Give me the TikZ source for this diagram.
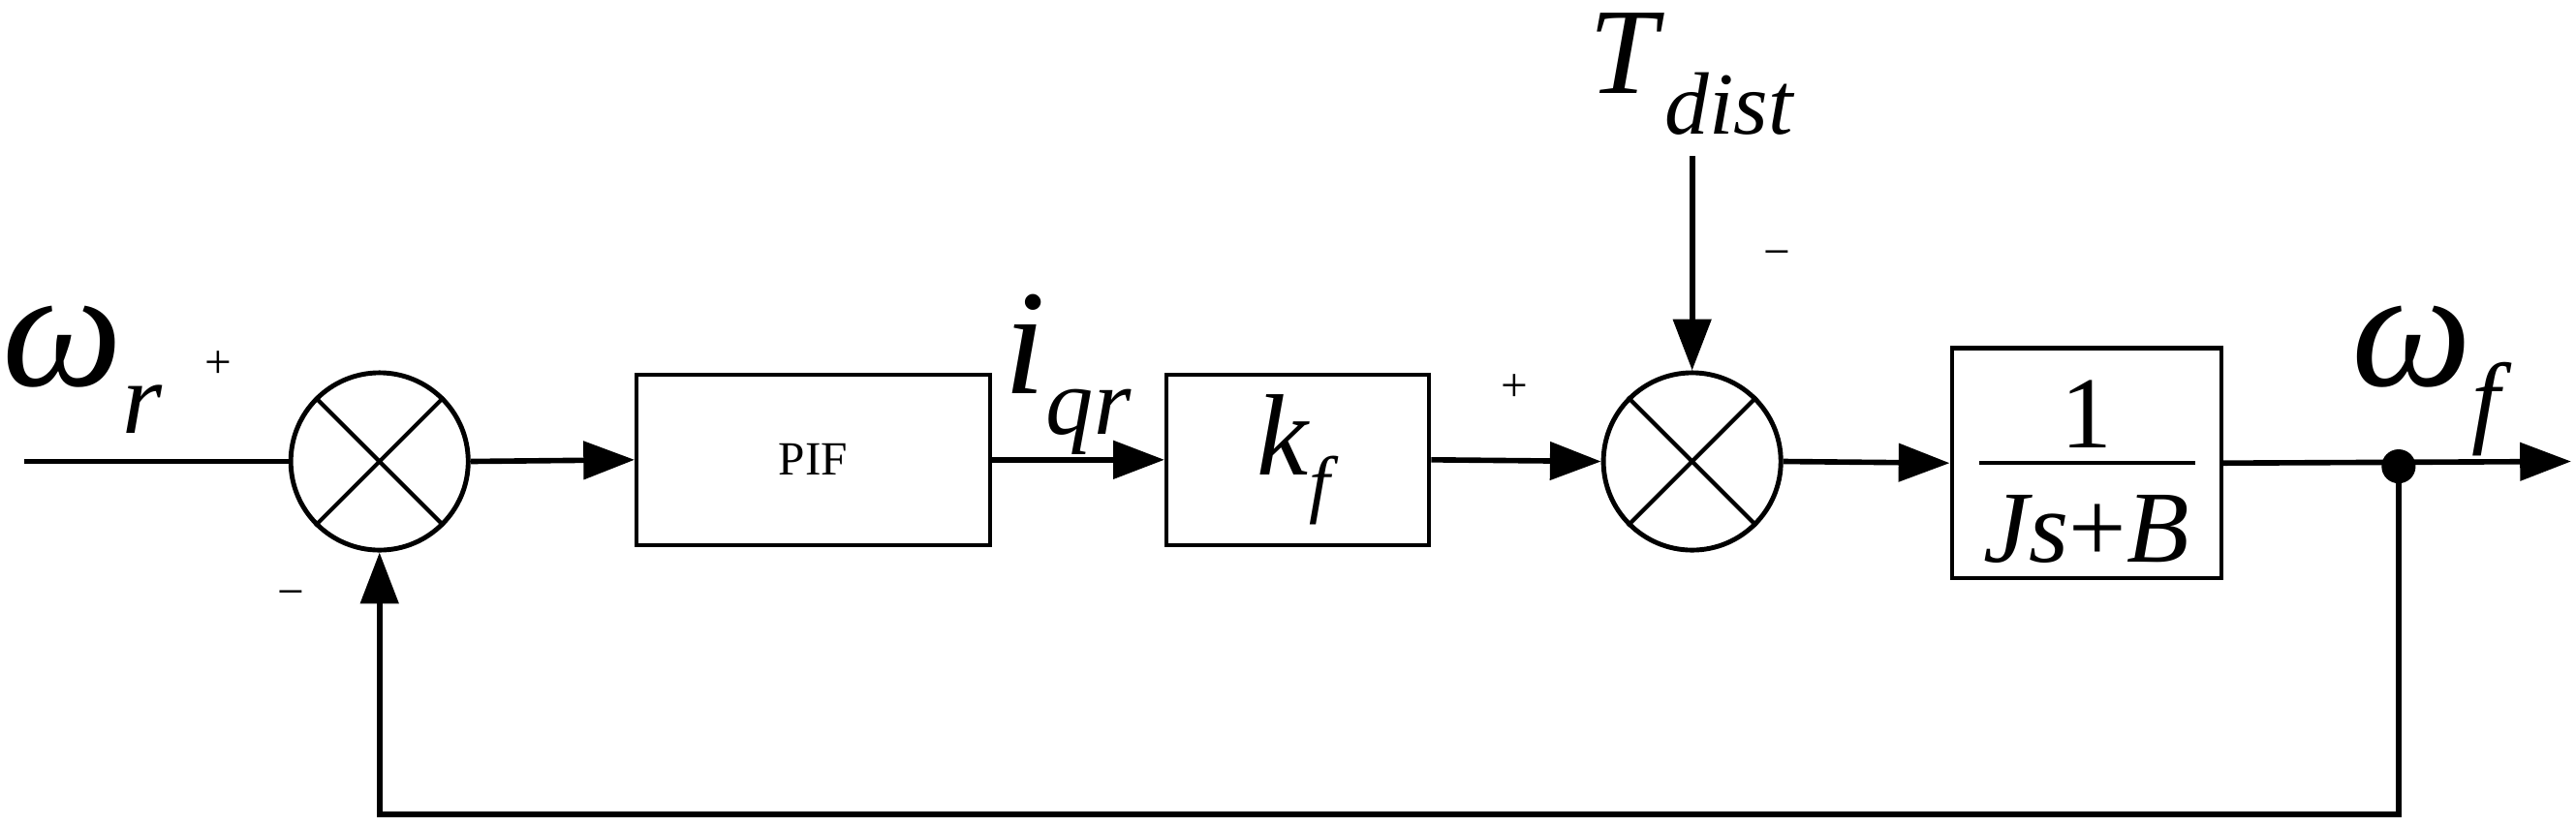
\documentclass[tikz,border=0pt]{standalone}
\usepackage{fontspec}
\setmainfont{Liberation Serif}
\usetikzlibrary{arrows.meta}
\begin{document}
\begin{tikzpicture}[x=0.01696cm,y=-0.01696cm,
  line width=1.6pt,
  arr/.style={-{Triangle[length=15pt,width=11pt]}},
  blk/.style={draw,line width=1.2pt,inner sep=0pt},
  sum/.style={draw,circle,line width=1.4pt,minimum size=108*0.01696cm,inner sep=0pt},
  lbl/.style={inner sep=0pt}]
\useasboundingbox (0,0) rectangle (1568,503);
\node[sum] (s1) at (231,281) {};
\draw[line width=1.2pt] (s1.north west)--(s1.south east) (s1.north east)--(s1.south west);
\node[sum] (s2) at (1030,281) {};
\draw[line width=1.2pt] (s2.north west)--(s2.south east) (s2.north east)--(s2.south west);
\node[blk,minimum width=215*0.01696cm,minimum height=104*0.01696cm] (pif) at (495,280) {\fontsize{14}{16}\selectfont PIF};
\node[blk,minimum width=160*0.01696cm,minimum height=104*0.01696cm] (kf) at (790,280) {\fontsize{34}{38}\selectfont\textit{k}\raisebox{-10pt}{\fontsize{22}{24}\selectfont\textit{f}}};
\node[blk,minimum width=164*0.01696cm,minimum height=140*0.01696cm] (g) at (1270,282) {};
\node[lbl] (one) at (1270,252) {\fontsize{30}{32}\selectfont 1};
\draw[line width=1.2pt] (1205,282)--(1336,282);
\node[lbl] (den) at (1270,322) {\fontsize{30}{32}\selectfont\textit{Js}+\textit{B}};
\coordinate (in) at (15,281);
\coordinate (out) at (1565,281);
\coordinate (td) at (1030,95);
\coordinate (fbR) at (1460,496);
\coordinate (fbL) at (231,496);
\node[circle,fill,inner sep=0pt,minimum size=10pt] (dot) at (1460,284) {};
\draw (in)--(s1.west);
\draw[arr] (s1.east)--(pif.west);
\draw[arr] (pif.east)--(kf.west);
\draw[arr] (kf.east)--(s2.west);
\draw[arr] (s2.east)--(g.west);
\draw[arr] (g.east)--(out);
\draw[arr] (td)--(s2.north);
\draw[arr] (dot.center)--(fbR)--(fbL)--(s1.south);
\node[lbl] at (50,225) {\fontsize{50}{54}\selectfont\textit{ω}\raisebox{-14pt}{\fontsize{30}{32}\selectfont\textit{r}}};
\node[lbl] at (133,222) {\fontsize{14}{16}\selectfont +};
\node[lbl] at (177,365) {\fontsize{14}{16}\selectfont −};
\node[lbl] at (650,228) {\fontsize{44}{48}\selectfont\textit{i}\raisebox{-12pt}{\fontsize{28}{30}\selectfont\textit{qr}}};
\node[lbl] at (922,236) {\fontsize{14}{16}\selectfont +};
\node[lbl] at (1082,158) {\fontsize{14}{16}\selectfont −};
\node[lbl] at (1030,45) {\fontsize{36}{40}\selectfont\textit{T}\raisebox{-12pt}{\fontsize{26}{28}\selectfont\textit{dist}}};
\node[lbl] at (1480,232) {\fontsize{50}{54}\selectfont\textit{ω}\raisebox{-14pt}{\fontsize{30}{32}\selectfont\textit{f}}};
\end{tikzpicture}
\end{document}
